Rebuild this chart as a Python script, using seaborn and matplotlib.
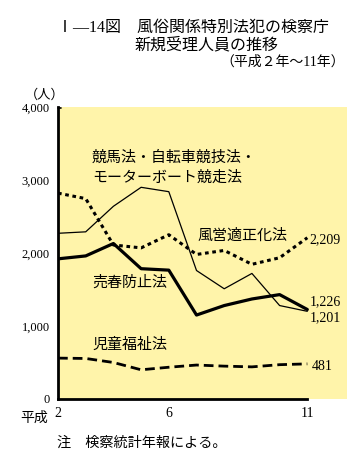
import pandas as pd
import seaborn as sns
from matplotlib import pyplot as plt

# 年（平成）
years = [2, 3, 4, 5, 6, 7, 8, 9, 10, 11]

# 検察庁新規受理人員（人）
keiba = [2270, 2290, 2640, 2900, 2840, 1760, 1510, 1720, 1280, 1201]
fuei = [2820, 2745, 2110, 2070, 2250, 1980, 2035, 1845, 1935, 2209]
baishun = [1920, 1960, 2130, 1785, 1765, 1150, 1280, 1370, 1430, 1226]
jido = [560, 555, 500, 400, 435, 465, 450, 440, 470, 481]

y_ticks = [0, 1000, 2000, 3000, 4000]
y_tick_labels = ["0", "1,000", "2,000", "3,000", "4,000"]
x_ticks = [2, 6, 11]
x_tick_labels = ["2", "6", "11"]

df = pd.DataFrame({"year": years, "keiba": keiba, "fuei": fuei,
                   "baishun": baishun, "jido": jido})

sns.set_style("white")
plt.rcParams['font.family'] = ['Liberation Serif', 'Noto Sans CJK JP']
plt.rcParams['text.color'] = 'black'
plt.rcParams['xtick.color'] = 'black'
plt.rcParams['ytick.color'] = 'black'

fig = plt.figure(figsize=(3.61, 4.71), dpi=100)
ax = fig.add_axes([0.1607, 0.1529, 0.8003, 0.6199])
ax.set_facecolor('#fff4aa')

sns.lineplot(data=df, x="year", y="keiba", ax=ax, color='black', linewidth=0.9)
sns.lineplot(data=df, x="year", y="fuei", ax=ax, color='black', linewidth=2.2,
             linestyle=(0, (1.2, 1.2)))
sns.lineplot(data=df, x="year", y="baishun", ax=ax, color='black', linewidth=2.3)
sns.lineplot(data=df, x="year", y="jido", ax=ax, color='black', linewidth=2.0,
             linestyle=(0, (3.5, 1.8)))

ax.set_xlim(2, 12.43)
ax.set_ylim(0, 4000)
ax.set_xlabel("")
ax.set_ylabel("")
ax.set_yticks(y_ticks)
ax.set_yticklabels(y_tick_labels, fontsize=9)
ax.set_xticks(years, minor=True)
ax.set_xticks(x_ticks)
ax.set_xticklabels(x_tick_labels, fontsize=10)
ax.tick_params(axis='x', which='both', direction='in', length=5, width=1,
               color='black', pad=6)
ax.tick_params(axis='y', direction='in', length=4, width=0.8, color='#888888', pad=6)

for s in ['top', 'right']:
    ax.spines[s].set_visible(False)
ax.spines['left'].set_linewidth(2)
ax.spines['left'].set_color('black')
ax.spines['bottom'].set_linewidth(2)
ax.spines['bottom'].set_color('black')
ax.spines['bottom'].set_bounds(2, 11)
ax.plot([2, 2.12], [3985, 3985], color='black', linewidth=1.2, clip_on=False)

lab = dict(fontsize=10.8, color='black', va='center', ha='left')
ax.text(3.23, 3299, "競馬法・自転車競技法・", **lab)
ax.text(3.23, 3038, "モーターボート競走法", **lab)
ax.text(7.02, 2240, "風営適正化法", **lab)
ax.text(3.23, 1595, "売春防止法", **lab)
ax.text(3.23, 742, "児童福祉法", **lab)

num = dict(fontsize=10, color='black', va='center', ha='left')
ax.text(11.06, 2180, "2,209", **num)
ax.text(11.1, 1333, "1,226", **num)
ax.text(11.1, 1113, "1,201", **num)
ax.text(11.17, 445, "481", **num)

fig.text(0.055, 0.1115, "平成", fontsize=10, va='center', ha='left')
fig.text(0.069, 0.798, "（人）", fontsize=9.5, va='center', ha='left')

fig.text(0.158, 0.9406, "Ⅰ—14図　風俗関係特別法犯の検察庁", fontsize=11.5,
         va='center', ha='left')
fig.text(0.374, 0.9045, "新規受理人員の推移", fontsize=11.5, va='center', ha='left')
fig.text(0.956, 0.868, "（平成２年～11年）", fontsize=10, va='center', ha='right')

fig.text(0.158, 0.0595, "注　検察統計年報による。", fontsize=10.2, va='center', ha='left')

fig.savefig("out.png", dpi=100)
